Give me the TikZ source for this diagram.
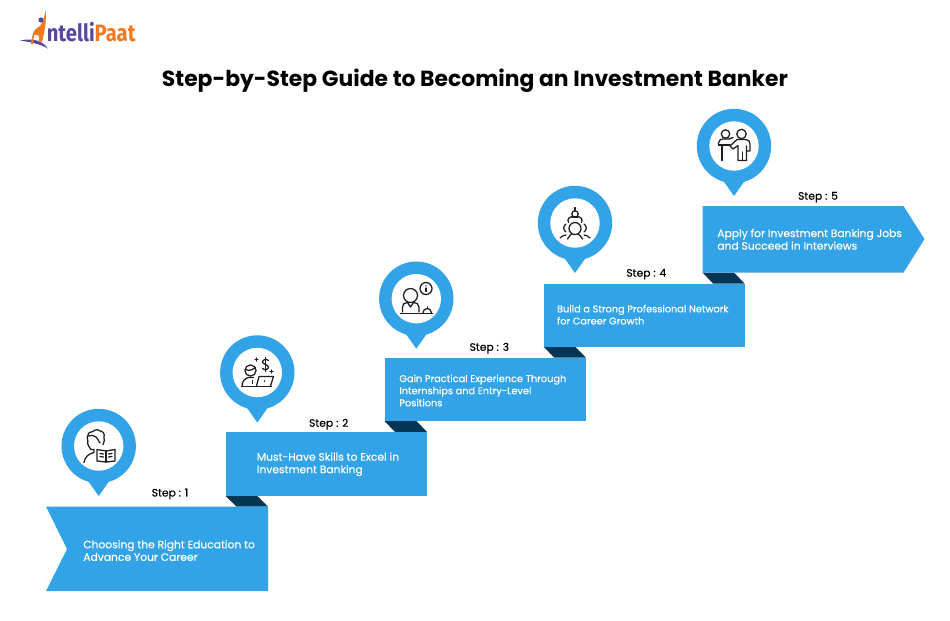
\documentclass[tikz,border=0pt]{standalone}
\usepackage{fontspec}
\setmainfont{Poppins}
\newfontfamily\medfont[FakeBold=0.4]{Poppins}
\newfontfamily\logofont[FakeStretch=0.85]{Fira Sans}
\usetikzlibrary{positioning}
\definecolor{colorbanner}{RGB}{ 51,163,232}
\definecolor{colorfold}{RGB}{  3, 54, 86}
\definecolor{colorpurple}{RGB}{ 88, 70,160}
\definecolor{colororange}{RGB}{242,121, 32}
\definecolor{coloricon}{RGB}{ 30, 30, 30}

\begin{document}
\begin{tikzpicture}[
    x=0.02cm,y=-0.02cm,
    banner/.style={fill=colorbanner},
    fold/.style={fill=colorfold},
    ico/.style={draw=coloricon,line width=0.72pt,line cap=round,line join=round},
    title/.style={font={\fontsize{12.45}{15}\selectfont\bfseries},inner sep=0pt},
    stepnum/.style={font={\medfont\fontsize{6.1}{7}\selectfont},text=black,inner sep=0pt},
    desc/.style={font={\medfont\fontsize{6.1}{7.15}\selectfont},text=white,inner sep=0pt,align=left,anchor=west},
    descsmall/.style={desc,font={\medfont\fontsize{5.57}{6.9}\selectfont}}
]
    \useasboundingbox (0,0) rectangle (950,620);
    \fill[white] (0,0) rectangle (950,620);

    % logo
    \fill[colorpurple] (20,40.5) .. controls (32,38) and (42,40) .. (48,48.5) .. controls (40,44) and (30,42) .. (20,40.5) -- cycle;
    \fill[colororange] (45.7,10) .. controls (46.5,20) and (45,30) .. (42,42) -- (38.5,41) .. controls (40,36) and (39,34) .. (34,35) -- (33,44) -- (31,44) .. controls (32,36) and (33,30) .. (37,28) .. controls (41,27) and (44,20) .. (45.7,10) -- cycle;
    \fill[colorpurple] (41,20) circle (2.6);
    \node[inner sep=0pt,anchor=base west,font={\logofont\fontsize{13.5}{14}\selectfont\bfseries}] (logo) at (46.5,41) {\textcolor{colorpurple}{ntelli}\textcolor{colororange}{Paat}};

    \node[title] (heading) at (475,80.5) {Step-by-Step Guide to Becoming an Investment Banker};

    % folds
    \fill[fold] (225.5,496) -- (257.5,496) -- (268,506.5) -- (236.5,506.5) -- cycle;
    \fill[fold] (384.5,421) -- (416.5,421) -- (427,432) -- (395,432) -- cycle;
    \fill[fold] (543.5,346.5) -- (575,346.5) -- (586,357.5) -- (554,357.5) -- cycle;
    \fill[fold] (702.5,272.5) -- (734,272.5) -- (744.5,283.5) -- (713,283.5) -- cycle;

    % banners
    \fill[banner] (46,506.5) -- (268,506.5) -- (268,591) -- (46,591) -- (67,549) -- cycle;
    \fill[banner] (225.5,432) rectangle (427,496);
    \fill[banner] (384.5,357.5) rectangle (586,421);
    \fill[banner] (543.5,283.5) rectangle (744.5,346.5);
    \fill[banner] (702.5,206) -- (903.5,206) -- (924.5,239) -- (903.5,272.5) -- (702.5,272.5) -- cycle;

    % pins
    \foreach \px/\py in {98.7/446,257.3/372.5,416.3/298.7,575/223,734/146}{
        \fill[colorbanner] (\px,\py) circle (37.2);
        \fill[colorbanner] (\px-12,\py+33) -- (\px,\py+50) -- (\px+12,\py+33) -- cycle;
        \fill[white] (\px,\py) circle (24.7);
    }

    \node[stepnum] (step1) at (170,494) {Step : 1};
    \node[stepnum] (step2) at (328.7,424.2) {Step : 2};
    \node[stepnum] (step3) at (489.3,348.2) {Step : 3};
    \node[stepnum] (step4) at (646.3,274.2) {Step : 4};
    \node[stepnum] (step5) at (818,197.2) {Step : 5};

    \node[desc] (edu) at (83,550.5) {Choosing the Right Education to\\Advance Your Career};
    \node[desc] (skills) at (256.5,464.3) {Must-Have Skills to Excel in\\Investment Banking};
    \node[descsmall] (gain) at (399,390.5) {Gain Practical Experience Through\\Internships and Entry-Level\\Positions};
    \node[descsmall] (network) at (556.7,314.7) {Build a Strong Professional Network\\for Career Growth};
    \node[desc] (apply) at (717,239.3) {Apply for Investment Banking Jobs\\and Succeed in Interviews};

    % icons
    \begin{scope}[shift={(99,446)}]
        \draw[ico] (-8,3.5) .. controls (-9,1) and (-12,-1) .. (-11.5,-3) .. controls (-10,-5) and (-13,-8) .. (-11,-11) .. controls (-11,-14) and (-7,-14) .. (-6,-14.5) .. controls (-4,-17) and (0,-16.5) .. (1,-15) .. controls (4,-15) and (6,-12) .. (5,-9) .. controls (6,-6) and (5,-4) .. (4,-1.5);
        \draw[ico] (-8,3.5) -- (-5,3.5) -- (-5,6.5) .. controls (-11,8) and (-14,11) .. (-15,16.5);
        \draw[ico] (-11,-10) .. controls (-8,-11) and (-5,-11) .. (-3,-9) .. controls (-2,-7) and (0,-6) .. (1,-3);
        \draw[ico] (-2,3.5) -- (7,5) -- (16,3.5) -- (16,15) -- (7,16) -- (-2,15) -- cycle;
        \draw[ico] (7,5) -- (7,16);
        \draw[ico] (1,7.5) -- (4.5,8) (1,10.5) -- (4.5,11) (9.5,8) -- (13,7.5) (9.5,11) -- (13,10.5);
    \end{scope}
    \begin{scope}[shift={(257.5,372.5)}]
        \draw[ico] (-7,-2) circle (5.6);
        \draw[ico] (-12,-3) .. controls (-8,-1) and (-5,-3) .. (-2,-5);
        \draw[ico] (-15.5,14) .. controls (-15.5,9) and (-13,6) .. (-9,5) -- (-4,5);
        \draw[ico] (-16,14) -- (14,14);
        \draw[ico] (-1,13.5) -- (1.5,4) -- (16,4) -- (13,13.5);
        \draw[ico] (-5,8) -- (-5,11);
        \draw[ico] (11,-12) .. controls (9,-14) and (5,-13) .. (5,-10.5) .. controls (5,-8) and (11,-8) .. (11,-5.5) .. controls (11,-3) and (7,-2) .. (5,-4);
        \draw[ico] (8,-15) -- (8,-1);
        \fill[coloricon] (-1,-15.5) -- (-0.4,-13.6) -- (1.5,-13) -- (-0.4,-12.4) -- (-1,-10.5) -- (-1.6,-12.4) -- (-3.5,-13) -- (-1.6,-13.6) -- cycle;
        \fill[coloricon] (14,-3.5) -- (14.6,-1.6) -- (16.5,-1) -- (14.6,-0.4) -- (14,1.5) -- (13.4,-0.4) -- (11.5,-1) -- (13.4,-1.6) -- cycle;
        \fill[coloricon] (7,8.5) circle (0.8);
    \end{scope}
    \begin{scope}[shift={(416.5,299)}]
        \draw[ico] (-6,-3.5) circle (7);
        \draw[ico] (-14,13) -- (-14,8) .. controls (-14,5) and (-12,3.5) .. (-9,3.5) -- (-6,8) -- (-3,3.5) .. controls (0,3.5) and (2.5,5) .. (2.5,8) -- (2.5,13);
        \draw[ico] (-16,14.5) -- (16,14.5);
        \draw[ico] (6.5,14) .. controls (7,10.5) and (9,9.5) .. (11,9.5) .. controls (13,9.5) and (14.5,11) .. (15,14);
        \draw[ico] (11,9.5) -- (11,8);
        \draw[ico] (9.5,-10.5) circle (6);
        \fill[coloricon] (9.5,-13.2) circle (0.8);
        \draw[ico] (9.5,-11) -- (9.5,-7.5);
    \end{scope}
    \begin{scope}[shift={(575,223)}]
        \draw[ico] (0,-9) circle (3.2);
        \draw[ico] (0,-15.5) -- (0,-12);
        \draw[ico] (-2.5,-6.5) .. controls (-6,-6) and (-8,-4) .. (-6.5,-0.5);
        \draw[ico] (2.5,-6.5) .. controls (6,-6) and (8,-4) .. (6.5,-0.5);
        \draw[ico] (-3,-6) -- (3,-6);
        \draw[ico] (0,5.5) circle (6);
        \draw[ico] (-7.5,16) .. controls (-6,13) and (-4,11.5) .. (-3,11);
        \draw[ico] (7.5,16) .. controls (6,13) and (4,11.5) .. (3,11);
        \draw[ico] (-9,1) .. controls (-12,3) and (-12,7) .. (-9,9);
        \draw[ico] (9,1) .. controls (12,3) and (12,7) .. (9,9);
        \draw[ico] (-15,15) .. controls (-13,13) and (-11,12) .. (-9,12);
        \draw[ico] (15,15) .. controls (13,13) and (11,12) .. (9,12);
    \end{scope}
    \begin{scope}[shift={(734,146)}]
        \draw[ico] (-8.5,-12) circle (4.2);
        \draw[ico] (7.5,-12) circle (4.7);
        \draw[ico] (-15.5,-1) -- (-15.5,-3) .. controls (-15.5,-6) and (-13,-7) .. (-11,-7) -- (-5,-7) -- (-1,-8.5);
        \draw[ico] (-15.5,-1) -- (-4,-1);
        \draw[ico] (-12,-1) -- (-12,14.5);
        \draw[ico] (-4,0) -- (3,-6.5) -- (12,-6.5) .. controls (15,-6.5) and (16,-4) .. (16,-2) -- (16,5) -- (12.5,5);
        \draw[ico] (-4,0) -- (-1,3) -- (4,-0.5) -- (4,14.5) -- (12.5,14.5) -- (12.5,0);
        \draw[ico] (8.2,6) -- (8.2,14.5);
    \end{scope}

\end{tikzpicture}
\end{document}
